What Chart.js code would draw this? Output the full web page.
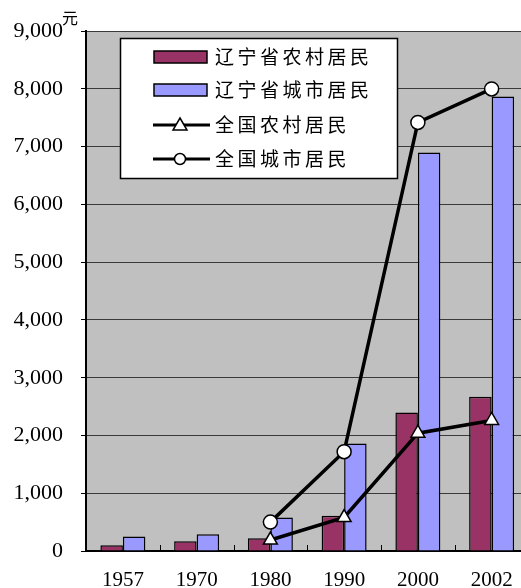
<!DOCTYPE html>
<html lang="zh">
<head>
  <meta charset="UTF-8">
  <title>辽宁省与全国居民收入</title>
  <script src="https://cdn.jsdelivr.net/npm/chart.js"></script>
  <style>
    html, body {
      margin: 0;
      padding: 0;
      background: #fff;
      overflow: hidden;
    }
    #chart {
      display: block;
    }
  </style>
</head>
<body>
  <canvas id="chart" width="538" height="588"></canvas>

  <script>
    const years = ['1957', '1970', '1980', '1990', '2000', '2002'];
    const lnRural = [100, 170, 220, 610, 2400, 2670];
    const lnUrban = [250, 290, 580, 1860, 6900, 7870];
    const cnRural = [null, null, 190, 580, 2040, 2260];
    const cnUrban = [null, null, 500, 1720, 7420, 8000];
    const seriesNames = ['辽宁省农村居民', '辽宁省城市居民', '全国农村居民', '全国城市居民'];

    const numFont = "'Liberation Serif', serif";
    const cjkFont = "'Noto Sans CJK SC', sans-serif";

    // grey plot area, inner x ticks, unit label and the boxed legend
    const decorations = {
      id: 'decorations',
      beforeDraw(chart) {
        const { ctx, chartArea: a } = chart;
        ctx.save();
        ctx.fillStyle = '#c0c0c0';
        ctx.fillRect(a.left, a.top, a.right - a.left, a.bottom - a.top);
        ctx.restore();
      },
      afterDraw(chart) {
        const { ctx, chartArea: a } = chart;
        const x = chart.scales.x;
        ctx.save();

        // small upward tick marks between the categories
        ctx.strokeStyle = '#000';
        ctx.lineWidth = 1;
        for (let i = 1; i < years.length; i++) {
          const px = Math.round((x.getPixelForValue(i - 1) + x.getPixelForValue(i)) / 2) + 0.5;
          ctx.beginPath();
          ctx.moveTo(px, a.bottom);
          ctx.lineTo(px, a.bottom - 6);
          ctx.stroke();
        }

        // unit
        ctx.fillStyle = '#000';
        ctx.font = '16px ' + cjkFont;
        ctx.textAlign = 'left';
        ctx.textBaseline = 'middle';
        ctx.fillText('元', 62, 18);

        // legend
        const bx = 120, by = 38, bw = 277, bh = 140;
        ctx.fillStyle = '#fff';
        ctx.fillRect(bx, by, bw, bh);
        ctx.strokeStyle = '#000';
        ctx.lineWidth = 1.5;
        ctx.strokeRect(bx + 0.5, by + 0.5, bw, bh);

        const rows = [57, 90, 125, 159];
        const ds = chart.data.datasets;
        rows.forEach((ry, i) => {
          const d = ds[i];
          if (d.type === 'bar') {
            ctx.fillStyle = d.backgroundColor;
            ctx.fillRect(154, ry - 6, 53, 12);
            ctx.strokeStyle = '#000';
            ctx.lineWidth = 1.5;
            ctx.strokeRect(154, ry - 6, 53, 12);
          } else {
            ctx.strokeStyle = '#000';
            ctx.lineWidth = 3;
            ctx.beginPath();
            ctx.moveTo(153, ry);
            ctx.lineTo(210, ry);
            ctx.stroke();
            ctx.fillStyle = '#fff';
            ctx.lineWidth = 1.5;
            ctx.beginPath();
            if (d.pointStyle === 'triangle') {
              ctx.moveTo(180, ry - 7);
              ctx.lineTo(187, ry + 5);
              ctx.lineTo(173, ry + 5);
              ctx.closePath();
            } else {
              ctx.arc(180, ry, 5.5, 0, Math.PI * 2);
            }
            ctx.fill();
            ctx.stroke();
          }
          ctx.fillStyle = '#000';
          ctx.font = '19px ' + cjkFont;
          ctx.letterSpacing = '3.5px';
          ctx.textAlign = 'left';
          ctx.textBaseline = 'middle';
          ctx.fillText(d.label, 215, ry);
          ctx.letterSpacing = '0px';
        });
        ctx.restore();
      }
    };

    new Chart(document.getElementById('chart'), {
      data: {
        labels: years,
        datasets: [
          {
            type: 'bar',
            label: seriesNames[0],
            data: lnRural,
            backgroundColor: '#993366',
            borderColor: '#000',
            borderWidth: 1.5,
            categoryPercentage: 0.61,
            barPercentage: 1,
            order: 2
          },
          {
            type: 'bar',
            label: seriesNames[1],
            data: lnUrban,
            backgroundColor: '#9999ff',
            borderColor: '#000',
            borderWidth: 1.5,
            categoryPercentage: 0.61,
            barPercentage: 1,
            order: 2
          },
          {
            type: 'line',
            label: seriesNames[2],
            data: cnRural,
            borderColor: '#000',
            borderWidth: 3.5,
            pointStyle: 'triangle',
            pointRadius: 8,
            pointBackgroundColor: '#fff',
            pointBorderColor: '#000',
            pointBorderWidth: 1.5,
            tension: 0,
            order: 1
          },
          {
            type: 'line',
            label: seriesNames[3],
            data: cnUrban,
            borderColor: '#000',
            borderWidth: 3.5,
            pointStyle: 'circle',
            pointRadius: 7,
            pointBackgroundColor: '#fff',
            pointBorderColor: '#000',
            pointBorderWidth: 1.5,
            tension: 0,
            order: 1
          }
        ]
      },
      options: {
        responsive: false,
        animation: false,
        devicePixelRatio: 1,
        layout: { padding: { top: 29, left: 0, right: 0, bottom: 0 } },
        plugins: {
          legend: { display: false },
          tooltip: { enabled: false }
        },
        scales: {
          x: {
            offset: true,
            grid: { display: false },
            border: { display: true, color: '#000', width: 2 },
            ticks: {
              color: '#000',
              font: { family: numFont, size: 21 },
              padding: 9,
              maxRotation: 0
            },
            afterFit(scale) { scale.height = 37; }
          },
          y: {
            min: 0,
            max: 9000,
            grid: {
              color: '#3a3a3a',
              lineWidth: 1,
              drawTicks: true,
              tickLength: 5,
              tickColor: '#000'
            },
            border: { display: true, color: '#000', width: 2 },
            ticks: {
              stepSize: 1000,
              color: '#000',
              padding: 18,
              font: { family: numFont, size: 22 },
              callback: v => v.toLocaleString('en-US')
            },
            afterFit(scale) { scale.width = 86; }
          }
        }
      },
      plugins: [decorations]
    });
  </script>
</body>
</html>
